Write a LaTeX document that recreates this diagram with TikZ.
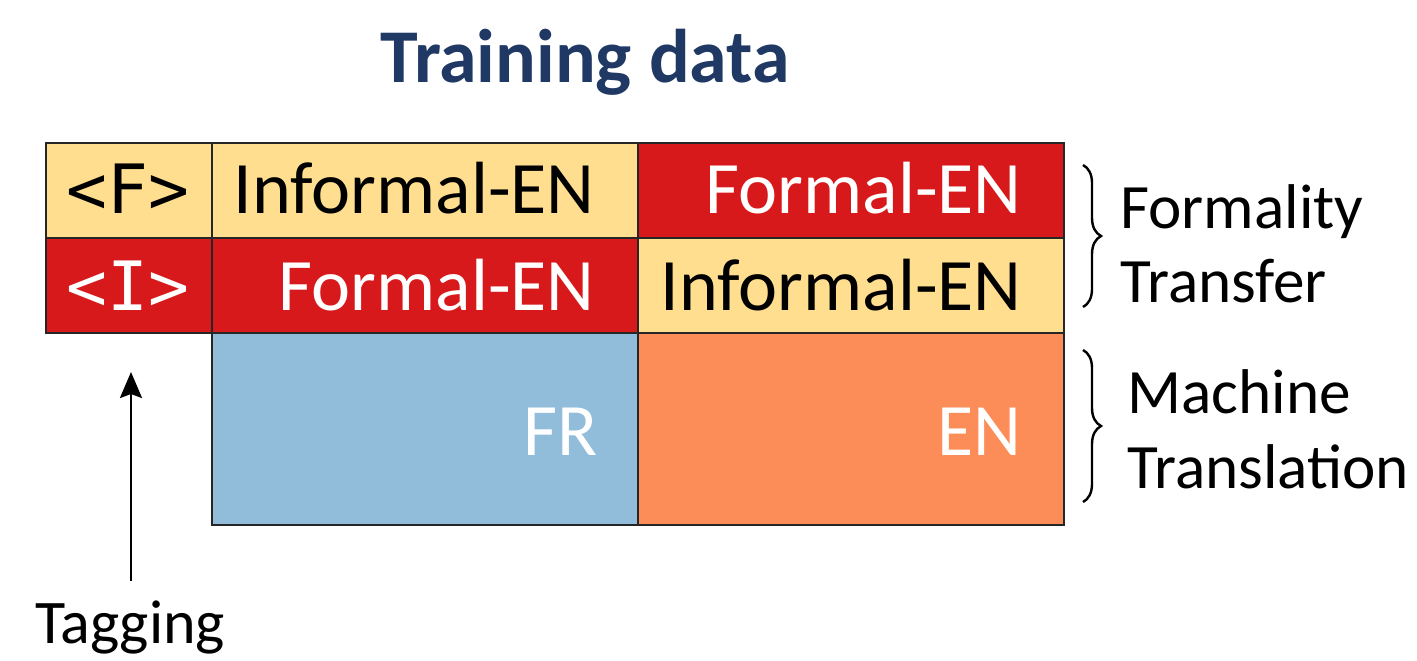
\documentclass[tikz,border=0pt]{standalone}
\usepackage{fontspec}
\setmainfont{Carlito}
\newfontfamily\tagmono{DejaVu Sans Mono}
\usetikzlibrary{arrows.meta,decorations.pathreplacing}
\definecolor{cyel}{RGB}{255,223,143}
\definecolor{cred}{RGB}{215,25,28}
\definecolor{cblue}{RGB}{145,189,219}
\definecolor{corange}{RGB}{252,141,89}
\definecolor{ctitle}{RGB}{31,56,100}
\tikzset{
  cell/.style={draw=black!85, line width=1pt, inner sep=0pt, anchor=north west},
  tagcol/.style={cell, minimum width=83pt, minimum height=47.5pt},
  rowcell/.style={cell, minimum width=213pt, minimum height=47.5pt},
  mtcell/.style={cell, minimum width=213pt, minimum height=96pt},
  celltxt/.style={inner sep=0pt, font=\fontsize{37}{42}\selectfont},
  tagtxt/.style={inner sep=0pt, font=\tagmono\fontsize{34}{38}\selectfont},
  sidetxt/.style={inner sep=0pt, anchor=base west, font=\fontsize{31.6}{36}\selectfont},
  bracestyle/.style={decorate, decoration={brace, amplitude=9pt}, line width=1.2pt},
}
\begin{document}
\begin{tikzpicture}[x=0.5pt, y=-0.5pt]
\useasboundingbox (0,0) rectangle (1417,660);
% title
\node[inner sep=0pt, anchor=base, text=ctitle, font=\bfseries\fontsize{38}{42}\selectfont] (title) at (585,82) {Training data};
% cells
\node[tagcol, fill=cyel] (t1) at (45,142) {};
\node[tagcol, fill=cred] (t2) at (45,237) {};
\node[rowcell, fill=cyel] (c12) at (211,142) {};
\node[rowcell, fill=cred] (c13) at (637,142) {};
\node[rowcell, fill=cred] (c22) at (211,237) {};
\node[rowcell, fill=cyel] (c23) at (637,237) {};
\node[mtcell, fill=cblue] (m2) at (211,332) {};
\node[mtcell, fill=corange] (m3) at (637,332) {};
% texts
\node[tagtxt, anchor=base, text=black] (tf) at (128,213) {<F>};
\node[tagtxt, anchor=base, text=white] (ti) at (128,310) {<I>};
\node[celltxt, anchor=base east, text=black] (x12) at (595,213) {Informal-EN};
\node[celltxt, anchor=base east, text=white] (x13) at (1022,213) {Formal-EN};
\node[celltxt, anchor=base east, text=white] (x22) at (595,310) {Formal-EN};
\node[celltxt, anchor=base east, text=black] (x23) at (1022,310) {Informal-EN};
\node[celltxt, anchor=base east, text=white] (xfr) at (598,455) {FR};
\node[celltxt, anchor=base east, text=white] (xen) at (1022,455) {EN};
% braces
\coordinate (b1a) at (1083,165);
\coordinate (b1b) at (1083,307);
\coordinate (b2a) at (1083,350);
\coordinate (b2b) at (1083,502);
\draw[bracestyle] (b1a) -- (b1b);
\draw[bracestyle] (b2a) -- (b2b);
\node[sidetxt] (l1) at (1120,228) {Formality};
\node[sidetxt] (l2) at (1120,302) {Transfer};
\node[sidetxt] (l3) at (1127,413) {Machine};
\node[sidetxt] (l4) at (1127,488) {Translation};
% tagging arrow
\node[inner sep=0pt, anchor=base, font=\fontsize{31}{36}\selectfont] (tag) at (130,643) {Tagging};
\coordinate (tail) at (131,581);
\coordinate (tip) at (131,372);
\draw[line width=1.2pt, -{Stealth[length=13pt, width=11pt, inset=2pt]}] (tail) -- (tip);
\end{tikzpicture}
\end{document}
